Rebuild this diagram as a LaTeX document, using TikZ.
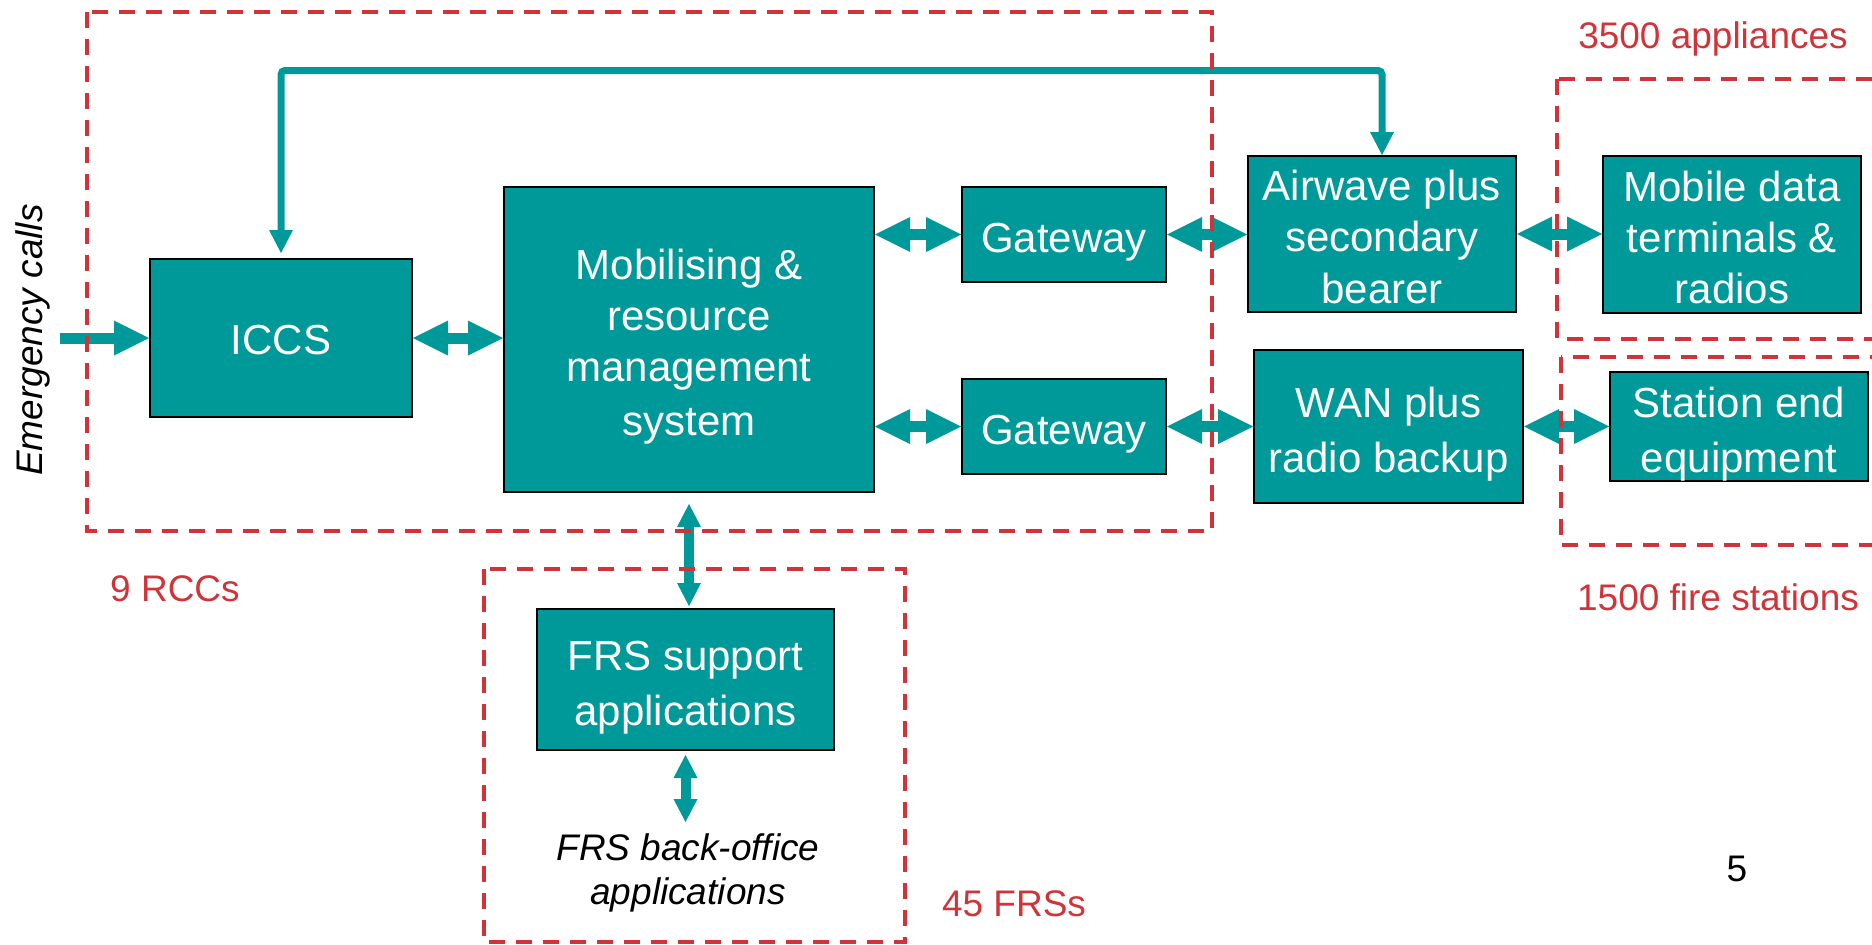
\documentclass[tikz,border=0pt]{standalone}
\usepackage{fontspec}
\setmainfont{Liberation Sans}
\usetikzlibrary{arrows.meta}
\definecolor{tealc}{RGB}{0,153,153}
\definecolor{redc}{RGB}{209,52,56}
\newcommand\tstrut{\rule[-9pt]{0pt}{54pt}}
\newcommand\tstrutb{\rule[-7pt]{0pt}{50pt}}
\newcommand\tstrutc{\rule[-9pt]{0pt}{51pt}}
\begin{document}
\begin{tikzpicture}[x=1pt,y=-1pt,
  box/.style={draw=black, line width=2pt, fill=tealc, text=white, align=center, inner sep=0pt, font=\fontsize{42}{51}\selectfont},
  grp/.style={draw=redc, line width=3.5pt, dash pattern=on 16pt off 11pt},
  lbl/.style={text=redc, font=\fontsize{37}{44}\selectfont, inner sep=0pt},
  hdbl/.style={draw=tealc, line width=11pt, arrows={Triangle[width=35pt,length=35pt,line width=0pt]-Triangle[width=35pt,length=35pt,line width=0pt]}},
  vdbl/.style={draw=tealc, line width=10pt, arrows={Triangle[width=24pt,length=23pt,line width=0pt]-Triangle[width=24pt,length=23pt,line width=0pt]}},
  sgl/.style={draw=tealc, line width=11pt, arrows={-Triangle[width=35pt,length=35pt,line width=0pt]}},
  fb/.style={draw=tealc, line width=7pt, rounded corners=4pt, arrows={Triangle[width=24pt,length=23pt,line width=0pt]-Triangle[width=24pt,length=23pt,line width=0pt]}}
]
\useasboundingbox (0,0) rectangle (1872,945);

% boxes
\node[box, minimum width=262pt, minimum height=158pt] (iccs) at (281,338) {\tstrutc ICCS\tstrutc};
\node[box, minimum width=370pt, minimum height=305pt] (mob) at (689,339.5) {\tstrut Mobilising \&\\resource\\management\\system\tstrut};
\node[box, minimum width=204pt, minimum height=95pt] (gw1) at (1064,234.5) {\tstrut Gateway\tstrut};
\node[box, minimum width=204pt, minimum height=95pt] (gw2) at (1064,426.5) {\tstrut Gateway\tstrut};
\node[box, minimum width=268pt, minimum height=156pt] (air) at (1382,234) {\tstrutb Airwave plus\\secondary\\bearer\tstrutb};
\node[box, minimum width=269pt, minimum height=153pt] (wan) at (1388.5,426.5) {\tstrut WAN plus\\radio backup\tstrut};
\node[box, minimum width=258pt, minimum height=157pt] (mdt) at (1732,234.5) {\tstrutb Mobile data\\terminals \&\\radios\tstrutb};
\node[box, minimum width=258pt, minimum height=103pt] (sta) at (1739,426.5) {\tstrut Station end\\equipment\tstrut};
\node[box, minimum width=297pt, minimum height=141pt] (frs) at (685.5,679.5) {\tstrut FRS support\\applications\tstrut};

% plain texts
\node[rotate=90, inner sep=0pt, font=\itshape\fontsize{37}{44}\selectfont] (ecalls) at (33,340) {Emergency calls};
\node[anchor=north, inner sep=0pt, align=center, font=\itshape\fontsize{37}{44}\selectfont] (back) at (688,833) {FRS back-office\\applications};
\node[lbl] (rcc) at (175,589) {9 RCCs};
\node[lbl] (frss) at (1014,904) {45 FRSs};
\node[lbl] (app) at (1713,39) {3500 appliances};
\node[lbl] (fst) at (1718,597) {1500 fire stations};
\node[inner sep=0pt, font=\fontsize{37}{44}\selectfont] (pg) at (1737,869) {5};

% connectors
\coordinate (ein) at (60,338);
\draw[sgl] (ein) -- (iccs.west);
\draw[hdbl] (iccs.east) -- (iccs.east -| mob.west);
\draw[hdbl] (gw1.west -| mob.east) -- (gw1.west);
\draw[hdbl] (gw2.west -| mob.east) -- (gw2.west);
\draw[hdbl] (gw1.east) -- (gw1.east -| air.west);
\draw[hdbl] (gw2.east) -- (gw2.east -| wan.west);
\draw[hdbl] (air.east) -- (air.east -| mdt.west);
\draw[hdbl] (wan.east) -- (wan.east -| sta.west);
\draw[vdbl, shorten <=11pt, shorten >=2pt] (mob.south) -- (mob.south |- frs.north);
\draw[vdbl, shorten <=4pt, shorten >=11pt] (frs.south) -- (frs.south |- back.north);
\coordinate (topy) at (0,70.5);
\draw[fb, shorten <=5pt] (iccs.north) -- (iccs.north |- topy) -- (air.north |- topy) -- (air.north);

% dashed groups
\draw[grp] (87,12) rectangle (1212,531);
\draw[grp] (484,569) rectangle (905,942);
\draw[grp] (1557,79) rectangle (1900,339);
\draw[grp] (1561,357) rectangle (1900,545);
\end{tikzpicture}
\end{document}
